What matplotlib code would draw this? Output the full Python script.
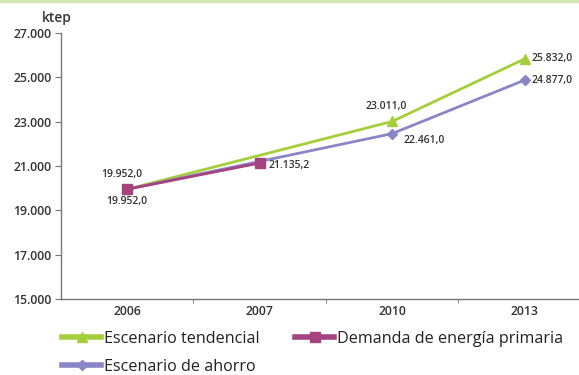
import numpy as np
import matplotlib
matplotlib.use("Agg")
import matplotlib.pyplot as plt
from matplotlib.lines import Line2D
from matplotlib.ticker import FuncFormatter

plt.rcParams['font.family'] = ['Open Sans', 'DejaVu Sans']

years = ["2006", "2007", "2010", "2013"]
# Escenario tendencial: values at 2006, 2010, 2013
tend_idx = [0, 2, 3]
tend_vals = [19952.0, 23011.0, 25832.0]
# Escenario de ahorro
ahorro_idx = [0, 2, 3]
ahorro_vals = [19952.0, 22461.0, 24877.0]
# Demanda de energía primaria
dem_idx = [0, 1]
dem_vals = [19952.0, 21135.2]

yticks = [15000, 17000, 19000, 21000, 23000, 25000, 27000]

green = "#a5cf3a"
blue = "#8a86c6"
magenta = "#a4437f"
txt = "#333333"

fig = plt.figure(figsize=(5.79, 3.75), dpi=100)
ax = fig.add_axes([61/579, (375-299)/375, 1-61/579, (299-33)/375])

l1, = ax.plot(tend_idx, tend_vals, color=green, lw=2.0, marker="^", ms=6.5, zorder=3,
              label="Escenario tendencial")
l3, = ax.plot(ahorro_idx, ahorro_vals, color=blue, lw=2.0, marker="D", ms=5, zorder=3,
              label="Escenario de ahorro")
l2, = ax.plot(dem_idx, dem_vals, color=magenta, lw=2.0, marker="s", ms=6.5, zorder=4,
              label="Demanda de energía primaria")

def fmt(v):
    s = f"{v:,.1f}"
    return s.replace(",", "X").replace(".", ",").replace("X", ".")

lab_kw = dict(fontsize=7.5, fontweight="semibold", color=txt, textcoords="offset points")
ax.annotate(fmt(tend_vals[0]), (tend_idx[0], tend_vals[0]), xytext=(-4, 7), ha="center", va="bottom", **lab_kw)
ax.annotate(fmt(ahorro_vals[0]), (ahorro_idx[0], ahorro_vals[0]), xytext=(0, -5), ha="center", va="top", **lab_kw)
ax.annotate(fmt(dem_vals[1]), (dem_idx[1], dem_vals[1]), xytext=(6, -2), ha="left", va="center", **lab_kw)
ax.annotate(fmt(tend_vals[1]), (tend_idx[1], tend_vals[1]), xytext=(-4, 7), ha="center", va="bottom", **lab_kw)
ax.annotate(fmt(ahorro_vals[1]), (ahorro_idx[1], ahorro_vals[1]), xytext=(8, -5), ha="left", va="center", **lab_kw)
ax.annotate(fmt(tend_vals[2]), (tend_idx[2], tend_vals[2]), xytext=(5, 0), ha="left", va="center", **lab_kw)
ax.annotate(fmt(ahorro_vals[2]), (ahorro_idx[2], ahorro_vals[2]), xytext=(5, 0), ha="left", va="center", **lab_kw)

ax.set_ylim(15000, 27000)
ax.set_xlim(-0.5, 3.41)
ax.set_yticks(yticks)
ax.yaxis.set_major_formatter(FuncFormatter(lambda v, p: f"{int(v):,}".replace(",", ".")))
ax.set_xticks(range(len(years)))
ax.set_xticklabels(years)
ax.set_xticks(np.arange(0.5, len(years) - 0.5, 1.0), minor=True)
ax.tick_params(axis="x", which="major", length=0, pad=4, labelsize=8.8, labelcolor=txt)
ax.tick_params(axis="x", which="minor", length=3, color="#777777", direction="out")
ax.tick_params(axis="y", length=4, color="#777777", labelsize=8.8, labelcolor=txt, pad=3)
for lbl in ax.get_xticklabels() + ax.get_yticklabels():
    lbl.set_fontweight("semibold")

for s in ["top", "right"]:
    ax.spines[s].set_visible(False)
for s in ["left", "bottom"]:
    ax.spines[s].set_color("#777777")
    ax.spines[s].set_linewidth(1.0)

fig.text(42/579, 1-18/375, "ktep", fontsize=10, fontweight="semibold", color=txt, va="center", ha="left")

# legend
leg = fig.legend(handles=[l1, l3, l2], loc="upper left", bbox_to_anchor=(62/579, 1-331/375),
                 ncol=2, frameon=False, fontsize=11.6, handlelength=2.45, handletextpad=0.15,
                 columnspacing=2.2, labelspacing=0.72, borderaxespad=0, borderpad=0)
for h in leg.legend_handles:
    h.set_linewidth(4)
for t in leg.get_texts():
    t.set_color("#222222")

fig.add_artist(Line2D([0, 1], [1-1/375, 1-1/375], transform=fig.transFigure, color="#cfe6ad", lw=2))

fig.savefig("out.png", dpi=100)
